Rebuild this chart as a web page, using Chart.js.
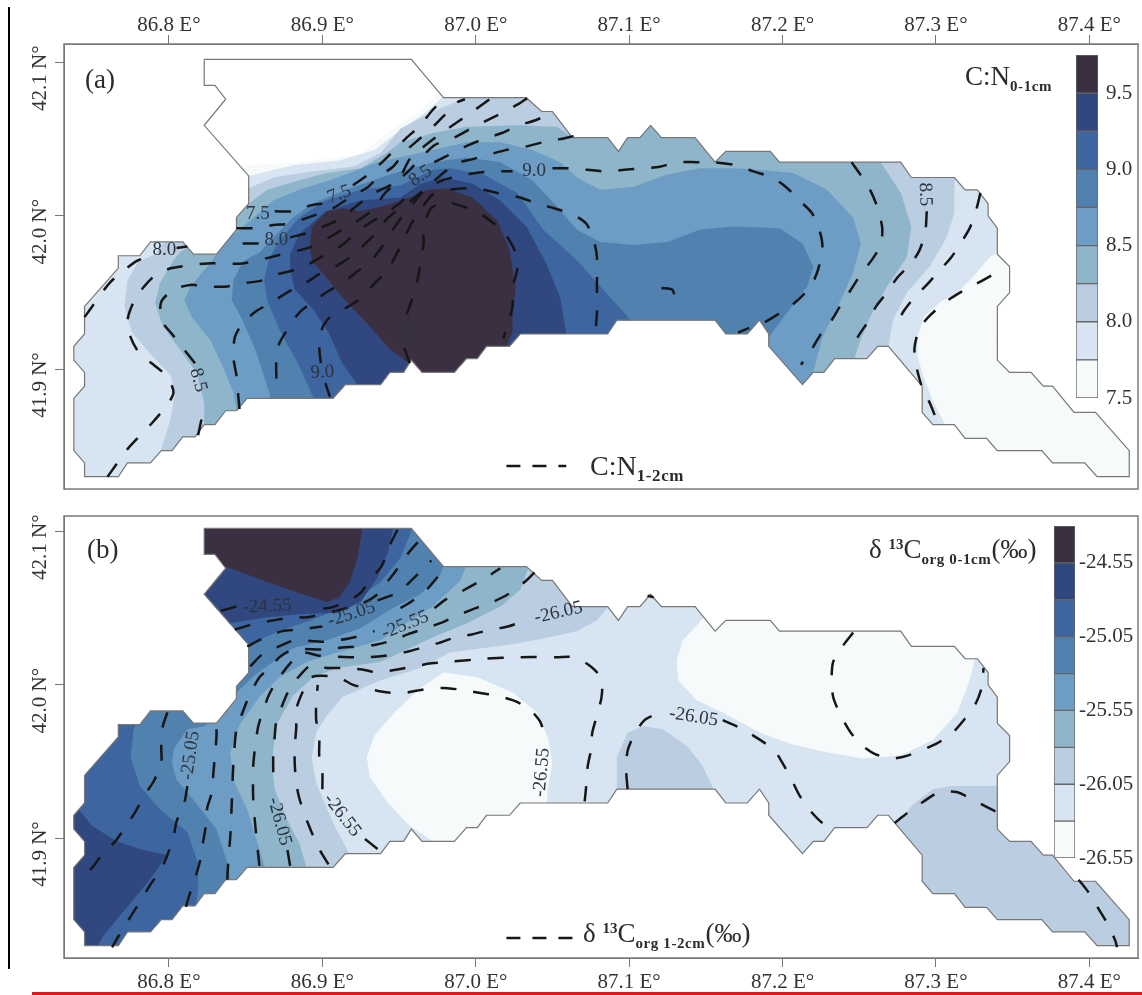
<!DOCTYPE html>
<html lang="en">
<head>
<meta charset="UTF-8">
<title>C:N and d13C maps</title>
<script src="https://cdn.jsdelivr.net/npm/chart.js"></script>
<style>
  html, body { margin: 0; background: #fff; }
  #page { position: relative; width: 1142px; height: 995px; overflow: hidden; font-family: "Liberation Serif", serif; color: #2b2b2b; }
  canvas { position: absolute; }
  .txt { position: absolute; white-space: nowrap; font-size: 27px; line-height: 30px; }
  .txt sub { font-size: 15px; font-weight: bold; letter-spacing: .6px; vertical-align: -6px; line-height: 0; }
  .txt sup { font-size: 15px; font-weight: bold; vertical-align: 9px; line-height: 0; }
  #leftRule { position: absolute; left: 8px; top: 7px; width: 2px; height: 962px; background: #000; }
  #redRule { position: absolute; left: 32px; top: 992px; width: 1110px; height: 3px; background: #e8141c; }
</style>
</head>
<body>
<div id="page">
  <div id="leftRule"></div>
  <div id="redRule"></div>
  <canvas id="mapA" width="1142" height="500" style="left:0;top:0"></canvas>
  <canvas id="mapB" width="1142" height="495" style="left:0;top:500px"></canvas>
  <canvas id="barA" width="72" height="375" style="left:1070px;top:45px"></canvas>
  <canvas id="barB" width="94" height="362" style="left:1048px;top:516px"></canvas>
  <div class="txt" style="left:85px;top:64px">(a)</div>
  <div class="txt" style="left:87px;top:534px">(b)</div>
  <div class="txt" style="left:965px;top:61px">C:N<sub>0-1cm</sub></div>
  <div class="txt" style="left:590px;top:451px;font-size:28px">C:N<sub style="font-size:17px">1-2cm</sub></div>
  <div class="txt" style="left:869px;top:534px">δ <sup>13</sup>C<sub>org 0-1cm</sub>(‰)</div>
  <div class="txt" style="left:583px;top:918px">δ <sup>13</sup>C<sub>org 1-2cm</sub>(‰)</div>
</div>

<script>
// axis ticks
var lonTicks = [86.8, 86.9, 87.0, 87.1, 87.2, 87.3, 87.4];
var latTicks = [41.9, 42.0, 42.1];

// colour bars
var bandColors = ['#f6fafb', '#d7e4f1', '#bacde1', '#8fb5cb', '#6d9dc4', '#5181ae', '#3d659f', '#30487f', '#3a3042'];
var edgesA = [7.5, 7.75, 8.0, 8.25, 8.5, 8.75, 9.0, 9.25, 9.5, 9.75];
var edgesB = [-26.55, -26.3, -26.05, -25.8, -25.55, -25.3, -25.05, -24.8, -24.55, -24.3];
var barTicksA = [7.5, 8.0, 8.5, 9.0, 9.5];
var barTicksB = [-26.55, -26.05, -25.55, -25.05, -24.55];

// study area boundary, lon/lat
var outline = [[86.823,42.102],[86.958,42.102],[86.979,42.077],[87.033,42.077],[87.043,42.068],[87.050,42.068],[87.063,42.051],[87.086,42.051],[87.093,42.042],[87.099,42.051],[87.107,42.051],[87.114,42.059],[87.121,42.051],[87.143,42.051],[87.156,42.035],[87.163,42.042],[87.192,42.042],[87.198,42.035],[87.277,42.035],[87.284,42.025],[87.312,42.025],[87.319,42.017],[87.327,42.017],[87.334,42.008],[87.334,42.000],[87.340,41.992],[87.340,41.975],[87.348,41.967],[87.348,41.950],[87.340,41.941],[87.340,41.906],[87.348,41.898],[87.362,41.898],[87.370,41.889],[87.376,41.889],[87.390,41.872],[87.404,41.872],[87.426,41.847],[87.426,41.830],[87.405,41.830],[87.397,41.839],[87.376,41.839],[87.369,41.847],[87.340,41.847],[87.333,41.855],[87.319,41.855],[87.312,41.864],[87.298,41.864],[87.291,41.872],[87.291,41.889],[87.269,41.915],[87.262,41.915],[87.255,41.907],[87.234,41.907],[87.227,41.898],[87.220,41.898],[87.213,41.890],[87.191,41.915],[87.191,41.923],[87.185,41.932],[87.177,41.923],[87.163,41.923],[87.156,41.932],[87.092,41.932],[87.086,41.923],[87.029,41.923],[87.022,41.915],[87.007,41.915],[87.001,41.907],[86.994,41.907],[86.986,41.898],[86.965,41.898],[86.958,41.906],[86.953,41.898],[86.944,41.898],[86.938,41.890],[86.915,41.890],[86.907,41.881],[86.851,41.881],[86.844,41.873],[86.837,41.873],[86.830,41.864],[86.823,41.864],[86.817,41.856],[86.809,41.856],[86.802,41.847],[86.795,41.847],[86.788,41.839],[86.773,41.839],[86.767,41.830],[86.745,41.830],[86.745,41.839],[86.738,41.847],[86.738,41.881],[86.745,41.889],[86.745,41.898],[86.738,41.906],[86.738,41.915],[86.745,41.923],[86.745,41.941],[86.767,41.966],[86.767,41.974],[86.781,41.974],[86.788,41.983],[86.809,41.983],[86.816,41.975],[86.831,41.975],[86.844,41.991],[86.844,41.999],[86.852,42.008],[86.852,42.026],[86.823,42.059],[86.837,42.076],[86.830,42.085],[86.823,42.085]];

// panel a: filled regions, C:N 0-1cm >= level
var a750 = [[86.852,42.033],[86.885,42.035],[86.925,42.040],[86.951,42.061],[86.964,42.069],[86.977,42.081],[87.016,42.108],[87.430,42.108],[87.430,41.825],[86.733,41.825],[86.733,42.033]];
var a775 = [[86.733,42.043],[86.852,42.026],[86.881,42.033],[86.911,42.036],[86.934,42.043],[86.951,42.056],[86.967,42.067],[86.980,42.079],[87.016,42.108],[87.430,42.108],[87.430,41.976],[87.340,41.976],[87.335,41.973],[87.324,41.960],[87.314,41.950],[87.303,41.944],[87.292,41.934],[87.288,41.921],[87.288,41.908],[87.292,41.895],[87.298,41.879],[87.306,41.864],[87.306,41.825],[86.733,41.825]];
var a800 = [[86.852,42.018],[86.868,42.025],[86.894,42.029],[86.920,42.032],[86.938,42.041],[86.951,42.057],[86.972,42.068],[86.994,42.077],[86.994,42.089],[87.312,42.089],[87.312,42.025],[87.312,42.002],[87.307,41.986],[87.296,41.967],[87.281,41.950],[87.272,41.932],[87.269,41.915],[87.269,41.825],[86.795,41.825],[86.795,41.848],[86.801,41.867],[86.804,41.885],[86.801,41.896],[86.788,41.910],[86.776,41.924],[86.771,41.941],[86.773,41.958],[86.780,41.970],[86.791,41.975],[86.797,41.983]];
var a825 = [[86.807,41.976],[86.851,42.007],[86.864,42.017],[86.881,42.022],[86.903,42.028],[86.925,42.031],[86.942,42.041],[86.951,42.048],[86.972,42.054],[86.994,42.058],[87.027,42.059],[87.053,42.058],[87.063,42.051],[87.063,42.062],[87.264,42.062],[87.264,42.035],[87.277,42.015],[87.284,41.993],[87.281,41.973],[87.268,41.954],[87.257,41.934],[87.250,41.917],[87.247,41.907],[87.247,41.825],[86.823,41.825],[86.823,41.878],[86.818,41.898],[86.807,41.913],[86.796,41.928],[86.791,41.943],[86.794,41.956],[86.803,41.971]];
var a850 = [[86.831,41.975],[86.840,41.986],[86.853,41.997],[86.868,42.010],[86.885,42.017],[86.910,42.025],[86.936,42.035],[86.972,42.043],[86.994,42.048],[87.016,42.048],[87.037,42.043],[87.055,42.035],[87.066,42.025],[87.081,42.017],[87.103,42.019],[87.125,42.027],[87.146,42.031],[87.168,42.031],[87.185,42.030],[87.207,42.028],[87.229,42.017],[87.246,41.999],[87.251,41.982],[87.246,41.963],[87.236,41.941],[87.226,41.921],[87.220,41.898],[87.220,41.825],[86.844,41.825],[86.844,41.874],[86.842,41.885],[86.835,41.902],[86.827,41.919],[86.815,41.934],[86.810,41.945],[86.814,41.954],[86.825,41.967]];
var a875 = [[86.853,41.973],[86.859,41.976],[86.868,41.986],[86.881,41.999],[86.894,42.008],[86.913,42.016],[86.938,42.025],[86.951,42.029],[86.972,42.035],[86.994,42.038],[87.016,42.035],[87.037,42.023],[87.053,42.006],[87.066,41.991],[87.081,41.983],[87.103,41.981],[87.125,41.983],[87.146,41.991],[87.168,41.993],[87.198,41.992],[87.213,41.982],[87.220,41.967],[87.216,41.954],[87.203,41.937],[87.191,41.921],[87.191,41.825],[86.866,41.825],[86.866,41.883],[86.857,41.911],[86.848,41.932],[86.841,41.945],[86.842,41.958],[86.848,41.970]];
var a900 = [[86.865,41.971],[86.872,41.984],[86.885,41.999],[86.902,42.010],[86.925,42.017],[86.951,42.020],[86.972,42.030],[86.983,42.031],[87.005,42.027],[87.027,42.015],[87.044,41.991],[87.066,41.971],[87.083,41.952],[87.101,41.932],[87.107,41.919],[87.107,41.825],[86.894,41.825],[86.894,41.882],[86.885,41.902],[86.872,41.926],[86.864,41.945],[86.862,41.958]];
var a925 = [[86.879,41.975],[86.885,41.988],[86.902,42.003],[86.925,42.010],[86.951,42.012],[86.964,42.021],[86.979,42.025],[86.998,42.021],[87.016,42.010],[87.033,41.993],[87.046,41.969],[87.055,41.947],[87.059,41.924],[87.059,41.825],[86.923,41.825],[86.923,41.890],[86.913,41.904],[86.904,41.924],[86.894,41.939],[86.882,41.952],[86.879,41.965]];
var a950 = [[86.892,41.980],[86.893,41.993],[86.903,42.003],[86.913,42.005],[86.925,42.003],[86.942,42.007],[86.957,42.012],[86.969,42.017],[86.981,42.018],[86.998,42.012],[87.014,41.997],[87.022,41.978],[87.026,41.954],[87.024,41.934],[87.024,41.924],[87.019,41.913],[86.990,41.890],[86.964,41.890],[86.958,41.903],[86.944,41.913],[86.929,41.930],[86.913,41.947],[86.900,41.963],[86.893,41.971]];

// panel a: dashed contours, C:N 1-2cm. [null,null] leaves room for a label
var GAP = [null, null];
var aLine1 = [[86.869,42.003],[86.881,42.003],[86.893,42.007],[86.900,42.008],GAP,[86.920,42.020],[86.930,42.027],[86.939,42.035],[86.947,42.043],[86.955,42.051],[86.964,42.059],[86.971,42.068],[86.979,42.076]];
var aLine2 = [[86.844,41.992],[86.855,41.992],[86.868,41.994],[86.879,41.995],[86.891,41.999],[86.907,42.005],[86.918,42.012],[86.930,42.019],[86.936,42.025],[86.946,42.032],[86.954,42.042],[86.962,42.049],[86.971,42.057],[86.979,42.065],[86.988,42.074],[86.993,42.076]];
var aLine3 = [[86.848,41.982],[86.859,41.982],GAP,[86.879,41.986],[86.891,41.989],[86.903,41.994],[86.913,41.999],[86.923,42.007],[86.932,42.014],[86.949,42.023],[86.957,42.037],[86.966,42.045],[86.975,42.052],[86.985,42.059],[86.995,42.066],[87.005,42.073],[87.009,42.076]];
var aLine4 = [[86.760,41.830],[86.773,41.848],[86.789,41.865],[86.799,41.877],[86.803,41.885],[86.799,41.895],[86.790,41.903],[86.781,41.910],[86.775,41.921],[86.773,41.932],[86.777,41.944],[86.783,41.953],[86.792,41.962],[86.802,41.966],[86.825,41.969],[86.848,41.969],[86.870,41.974],[86.893,41.980],[86.913,41.991],[86.932,42.003],[86.941,42.015],[86.957,42.030],[86.973,42.046],[86.986,42.051],[86.997,42.057],[87.007,42.062],[87.017,42.067],[87.028,42.073],[87.034,42.077]];
var aLine5 = [[86.819,41.857],[86.822,41.871],GAP,[86.817,41.904],[86.809,41.914],[86.802,41.923],[86.795,41.932],[86.795,41.944],[86.803,41.952],[86.814,41.955],[86.825,41.954],[86.838,41.954],[86.848,41.956],[86.861,41.958],[86.871,41.962],[86.883,41.965],[86.892,41.969],[86.904,41.976],[86.913,41.981],[86.923,41.990],[86.932,41.996],[86.949,42.007],[86.956,42.014],GAP,[86.973,42.035],[86.985,42.041],[86.995,42.046],[87.005,42.050],[87.017,42.054],[87.028,42.059],[87.038,42.062],[87.050,42.067]];
var aLine6 = [[86.846,41.874],[86.845,41.885],[86.844,41.896],[86.842,41.908],[86.843,41.921],[86.848,41.930],[86.857,41.938],[86.866,41.943],[86.877,41.950],[86.887,41.955],[86.898,41.962],[86.907,41.966],[86.918,41.973],[86.926,41.980],[86.936,41.990],[86.943,41.999],[86.958,42.010],[86.973,42.023],[86.987,42.034],[86.998,42.037],[87.009,42.040],[87.020,42.043],[87.032,42.045],[87.044,42.048],[87.055,42.050],[87.064,42.052]];
var aLine7 = [[86.870,41.894],[86.870,41.905],[86.872,41.917],[86.878,41.927],[86.885,41.937],[86.894,41.944],[86.904,41.951],[86.913,41.956],[86.923,41.964],[86.932,41.971],[86.939,41.980],[86.946,41.991],[86.953,42.001],[86.959,42.008],[86.968,42.018],[86.978,42.023],[86.989,42.026],[87.000,42.028],[87.012,42.029],[87.024,42.029],GAP,[87.050,42.031],[87.061,42.031],[87.073,42.030],[87.085,42.029],[87.097,42.030],[87.108,42.031],[87.120,42.032],[87.131,42.035],[87.144,42.035],[87.155,42.035],[87.170,42.033],[87.181,42.029],[87.193,42.025],[87.202,42.019],[87.211,42.010],[87.219,42.002],[87.224,41.991],[87.226,41.980],[87.224,41.968],[87.220,41.957],[87.213,41.948],[87.205,41.941],[87.194,41.934],[87.187,41.930],[87.181,41.928],[87.171,41.924]];
var aLine8 = [[86.905,41.882],[86.902,41.891],GAP,[86.899,41.904],[86.898,41.915],[86.900,41.927],[86.905,41.934],[86.917,41.941],[86.926,41.947],[86.934,41.956],[86.942,41.964],[86.951,41.980],[86.958,41.995],[86.964,42.004],[86.972,42.014],[86.982,42.017],[86.995,42.018],[87.005,42.017],[87.018,42.014],[87.029,42.012],[87.040,42.008],[87.051,42.005],[87.063,42.001],[87.072,41.995],[87.077,41.984],[87.079,41.973],[87.079,41.961],[87.079,41.950],[87.079,41.937],[87.078,41.924]];
var aLine9 = [[86.957,41.904],[86.953,41.915],GAP,[86.955,41.936],[86.959,41.947],[86.962,41.958],[86.964,41.969],[86.966,41.982],[86.966,41.993],[86.971,42.005],[86.980,42.009],[86.992,42.006],[87.002,42.002],[87.013,41.994],[87.020,41.987],[87.026,41.976],[87.027,41.965],[87.024,41.953],[87.024,41.941],[87.021,41.930],[87.018,41.920]];
var aLine10 = [[86.745,41.934],[86.750,41.941],[86.762,41.957],[86.778,41.970],[86.785,41.973],GAP,[86.805,41.979],[86.812,41.980]];
var aLine11 = [[87.121,41.953],[87.128,41.952],[87.130,41.947]];
var aLine12 = [[87.245,42.035],[87.252,42.025],[87.258,42.015],[87.262,42.005],[87.265,41.992],[87.264,41.981],[87.258,41.971],[87.251,41.962],[87.244,41.951],[87.238,41.942],[87.232,41.932],[87.225,41.923],[87.219,41.913],[87.212,41.903]];
var aLine13 = [[87.294,42.003],[87.293,41.989],[87.289,41.977],[87.283,41.968],[87.275,41.960],[87.268,41.950],[87.261,41.941],[87.255,41.930],[87.249,41.921],[87.245,41.910]];
var aLine14 = [[87.329,42.015],[87.326,42.003],[87.322,41.992],[87.316,41.982],[87.310,41.973],[87.302,41.964],[87.294,41.955],[87.286,41.947],[87.279,41.938],[87.273,41.927]];
var aLine15 = [[87.336,41.961],[87.325,41.955],[87.314,41.949],[87.305,41.943],[87.295,41.934],[87.289,41.926],[87.286,41.914],[87.287,41.903],[87.291,41.888],[87.296,41.878],[87.301,41.866],[87.303,41.864]];
var aKey = [[87.020,41.837],[87.059,41.837]];
var aLabels = [[86.858,42.001,'7.5',0],[86.911,42.014,'7.5',-20],[86.870,41.984,'8.0',0],[86.797,41.978,'8.0',0],[86.964,42.026,'8.5',-35],[87.038,42.029,'9.0',0],[86.819,41.893,'8.5',75],[86.900,41.898,'9.0',-3],[86.954,41.926,'9.5',-80],[87.293,42.014,'8.5',88]];

// panel b: filled regions, d13C 0-1cm. base colour is the -26.30 band
var bLow1 = [[86.979,42.008],[87.001,42.005],[87.024,41.995],[87.040,41.982],[87.047,41.966],[87.050,41.949],[87.047,41.932],[87.046,41.915],[86.996,41.893],[86.972,41.898],[86.957,41.908],[86.942,41.924],[86.931,41.940],[86.929,41.953],[86.934,41.967],[86.947,41.982],[86.964,41.998]];
var bLow2 = [[87.146,42.041],[87.135,42.029],[87.131,42.016],[87.132,42.003],[87.144,41.990],[87.161,41.982],[87.185,41.969],[87.207,41.961],[87.229,41.956],[87.252,41.952],[87.277,41.954],[87.298,41.964],[87.314,41.982],[87.322,42.003],[87.326,42.020],[87.326,42.055],[87.159,42.055]];
var bMid1 = [[87.092,41.932],[87.092,41.953],[87.099,41.969],[87.109,41.973],[87.122,41.971],[87.138,41.960],[87.148,41.947],[87.155,41.932],[87.155,41.919],[87.092,41.919]];
var bMid2 = [[87.275,41.910],[87.285,41.922],[87.298,41.932],[87.311,41.934],[87.340,41.934],[87.430,41.934],[87.430,41.824],[87.264,41.824],[87.264,41.906]];
var bMid3 = [[87.086,42.050],[87.079,42.042],[87.066,42.035],[87.048,42.031],[87.027,42.027],[87.005,42.024],[86.983,42.021],[86.964,42.011],[86.938,42.003],[86.913,41.992],[86.903,41.980],[86.896,41.969],[86.893,41.953],[86.896,41.936],[86.907,41.910],[86.917,41.891],[86.917,41.824],[86.733,41.824],[86.733,42.107],[87.086,42.107]];
var b2580 = [[87.035,42.078],[87.029,42.062],[87.016,42.051],[86.994,42.040],[86.972,42.031],[86.951,42.021],[86.938,42.015],[86.910,42.011],[86.894,42.005],[86.881,41.993],[86.870,41.974],[86.867,41.949],[86.869,41.932],[86.877,41.912],[86.885,41.897],[86.890,41.880],[86.890,41.824],[86.733,41.824],[86.733,42.107],[87.035,42.107]];
var b2555 = [[86.998,42.088],[86.990,42.068],[86.972,42.051],[86.951,42.038],[86.938,42.029],[86.910,42.021],[86.890,42.015],[86.872,42.005],[86.859,41.992],[86.846,41.974],[86.840,41.956],[86.842,41.938],[86.851,41.919],[86.857,41.899],[86.863,41.880],[86.863,41.824],[86.733,41.824],[86.733,42.107],[86.998,42.107]];
var b2530 = [[86.982,42.085],[86.977,42.072],[86.964,42.059],[86.946,42.050],[86.925,42.037],[86.903,42.029],[86.881,42.024],[86.868,42.015],[86.857,42.007],[86.846,41.997],[86.835,41.982],[86.823,41.973],[86.812,41.971],[86.803,41.958],[86.802,41.949],[86.805,41.938],[86.816,41.925],[86.831,41.906],[86.838,41.884],[86.840,41.873],[86.840,41.824],[86.733,41.824],[86.733,42.107],[86.982,42.107]];
var b2505N = [[86.958,42.107],[86.958,42.100],[86.951,42.083],[86.938,42.067],[86.920,42.054],[86.898,42.044],[86.872,42.035],[86.852,42.026],[86.820,42.026],[86.820,42.107]];
var b2505W = [[86.781,41.980],[86.777,41.971],[86.775,41.953],[86.781,41.934],[86.794,41.919],[86.812,41.904],[86.819,41.884],[86.819,41.868],[86.817,41.850],[86.817,41.824],[86.733,41.824],[86.733,41.980]];
var b2480N = [[86.946,42.107],[86.946,42.101],[86.943,42.087],[86.936,42.070],[86.925,42.054],[86.910,42.047],[86.885,42.046],[86.864,42.044],[86.838,42.040],[86.814,42.055],[86.814,42.107]];
var b2480W = [[86.733,41.925],[86.740,41.925],[86.740,41.920],[86.750,41.908],[86.766,41.898],[86.781,41.893],[86.799,41.889],[86.786,41.871],[86.770,41.852],[86.757,41.836],[86.750,41.824],[86.733,41.824]];
var b2455 = [[86.926,42.107],[86.926,42.101],[86.923,42.083],[86.918,42.067],[86.911,42.057],[86.903,42.054],[86.887,42.059],[86.864,42.067],[86.840,42.076],[86.820,42.081],[86.820,42.107]];

// panel b: dashed contours, d13C 1-2cm
var bLine1 = [[86.949,42.101],[86.943,42.089],[86.939,42.078],[86.931,42.068],[86.925,42.060],[86.916,42.054],[86.904,42.050],[86.892,42.050],GAP,[86.844,42.051],[86.833,42.048]];
var bLine2 = [[86.843,42.036],[86.857,42.040],[86.868,42.042],[86.881,42.044],[86.890,42.044],[86.908,42.048],[86.926,42.053],[86.936,42.059],[86.943,42.068],[86.947,42.073],[86.957,42.087],[86.965,42.096]];
var bLine3 = [[86.851,42.025],[86.863,42.031],[86.874,42.035],[86.885,42.036],[86.900,42.038],GAP,[86.951,42.050],[86.959,42.055],[86.968,42.062],[86.979,42.075]];
var bLine4 = [[86.936,42.055],[86.949,42.060],[86.956,42.066],[86.971,42.081]];
var bLine5 = [[86.853,42.012],[86.861,42.020],[86.874,42.026],[86.882,42.029],[86.900,42.028],[86.910,42.029],[86.921,42.031],[86.934,42.035],GAP,[86.973,42.050],[86.981,42.056],[86.991,42.061],[87.007,42.070],[87.016,42.076]];
var bLine6 = [[86.838,41.873],[86.839,41.890],[86.840,41.901],[86.841,41.924],[86.842,41.948],[86.844,41.971],[86.848,41.982],[86.852,41.992],[86.859,42.005],[86.866,42.011],[86.872,42.018],[86.881,42.023],[86.900,42.023],[86.910,42.024],[86.934,42.026],[86.946,42.029],[86.956,42.033],[86.968,42.037],[86.979,42.041],[86.990,42.046],[87.000,42.050],[87.011,42.054],[87.021,42.059],[87.033,42.068],[87.039,42.074]];
var bLine7 = [[86.859,41.882],[86.857,41.901],[86.855,41.924],[86.855,41.948],[86.858,41.972],[86.861,41.982],[86.865,41.993],[86.870,42.002],[86.879,42.014],[86.887,42.021],[86.898,42.019],[86.918,42.018],[86.930,42.018],[86.941,42.019],[86.953,42.021],[86.964,42.024],[86.975,42.027],[86.987,42.031],[86.998,42.033],[87.010,42.036],[87.021,42.038],[87.035,42.043]];
var bLine8 = [[86.879,41.882],[86.877,41.894],GAP,[86.868,41.943],[86.868,41.954],[86.869,41.967],[86.870,41.976],[86.874,41.987],[86.879,41.998],[86.887,42.008],[86.893,42.013],[86.903,42.011],[86.913,42.011],[86.926,42.010],[86.936,42.008],[86.949,42.010],[86.960,42.012],[86.971,42.014],[86.983,42.015],[87.006,42.017],[87.029,42.018],[87.053,42.018],[87.064,42.018],[87.075,42.012],[87.082,42.004],[87.082,41.992],[87.079,41.980],[87.076,41.969],[87.075,41.957],[87.073,41.947],[87.072,41.934],[87.071,41.924]];
var bLine9 = [[86.904,41.883],[86.898,41.893],[86.893,41.904],[86.889,41.914],[86.885,41.926],[86.883,41.936],[86.882,41.949],[86.882,41.960],[86.883,41.972],[86.883,41.984],[86.887,41.995],[86.893,42.005],[86.910,42.005],[86.920,42.000],[86.932,41.997],[86.943,41.995],[86.955,41.995],[86.966,41.997],[86.978,41.998],[86.989,41.997],[87.001,41.995],[87.013,41.993],[87.024,41.990],[87.034,41.985],[87.042,41.976],[87.046,41.963]];
var bLine10 = [[86.936,41.893],[86.926,41.901],GAP,[86.900,41.932],[86.900,41.943],[86.898,41.953],[86.898,41.967],[86.896,41.977],[86.896,41.988],[86.897,42.000]];
var bLine11 = [[86.831,41.971],[86.831,41.966],[86.830,41.954],[86.829,41.943],[86.828,41.930],[86.825,41.920],[86.824,41.908],[86.822,41.896],[86.820,41.884],[86.817,41.874],[86.813,41.862],[86.811,41.855]];
var bLine12 = [[86.812,41.934],[86.810,41.923],[86.805,41.911],[86.803,41.901],[86.799,41.889],[86.795,41.880],[86.788,41.870],[86.782,41.860],[86.775,41.849],[86.769,41.839],[86.767,41.836],[86.763,41.829]];
var bLine13 = [[86.799,41.982],[86.796,41.973],[86.795,41.960],[86.795,41.949],[86.790,41.937],[86.784,41.928],[86.778,41.917],[86.772,41.908],[86.765,41.898],[86.757,41.890],[86.750,41.881],[86.742,41.872]];
var bLine14 = [[87.099,41.932],[87.098,41.945],[87.099,41.957],[87.103,41.967],[87.110,41.977],[87.120,41.982],GAP,[87.161,41.977],[87.174,41.971],[87.194,41.958],[87.200,41.949],[87.206,41.938],[87.211,41.928],[87.218,41.918],[87.226,41.910],[87.234,41.906]];
var bLine15 = [[87.246,42.034],[87.239,42.025],[87.233,42.015],[87.232,42.004],[87.233,41.992],[87.237,41.982],[87.243,41.971],[87.250,41.962],[87.260,41.955],[87.271,41.952],[87.282,41.954],[87.301,41.962],[87.311,41.969],[87.319,41.978],[87.326,41.988],[87.330,41.999],[87.331,42.011]];
var bLine16 = [[87.273,41.910],[87.282,41.917],[87.292,41.924],[87.302,41.930],[87.314,41.930],[87.324,41.925],[87.340,41.917]];
var bLine17 = [[87.393,41.873],[87.400,41.864],[87.406,41.854],[87.412,41.844],[87.417,41.833],[87.418,41.829]];
var bLine18 = [[87.112,42.058],[87.116,42.057]];
var bKey = [[87.020,41.835],[87.064,41.835]];
var bLabels = [[86.864,42.051,'-24.55',-2],[86.919,42.046,'-25.05',-18],[86.954,42.039,'-25.55',-22],[87.054,42.047,'-26.05',-13],[87.043,41.943,'-26.55',-85],[87.142,41.979,'-26.05',9],[86.913,41.915,'-26.55',52],[86.872,41.911,'-26.05',75],[86.814,41.954,'-25.05',-82]];

Chart.defaults.font.family = '"Liberation Serif", serif';
Chart.defaults.color = '#333';
Chart.defaults.animation = false;

// fills each region clipped to the boundary, writes contour labels, frames the plot
var mapPlugin = {
    id: 'mapPlugin',
    beforeDatasetDraw: function (chart, args) {
        var ds = chart.data.datasets[args.index];
        if (!ds.region) return;
        var xs = chart.scales.x, ys = chart.scales.y, ctx = chart.ctx;
        ctx.save();
        ctx.beginPath();
        outline.forEach(function (p, i) {
            var px = xs.getPixelForValue(p[0]), py = ys.getPixelForValue(p[1]);
            if (i === 0) ctx.moveTo(px, py); else ctx.lineTo(px, py);
        });
        ctx.closePath();
        ctx.clip();
        ctx.beginPath();
        args.meta.data.forEach(function (el, i) {
            if (i === 0) ctx.moveTo(el.x, el.y); else ctx.lineTo(el.x, el.y);
        });
        ctx.closePath();
        ctx.fillStyle = ds.region;
        ctx.fill();
        ctx.restore();
    },
    afterDatasetsDraw: function (chart) {
        var a = chart.chartArea, ctx = chart.ctx;
        ctx.save();
        ctx.strokeStyle = '#7a7a7a';
        ctx.lineWidth = 1.5;
        ctx.strokeRect(a.left, a.top, a.right - a.left, a.bottom - a.top);
        ctx.font = '19px "Liberation Serif", serif';
        ctx.fillStyle = '#2c3440';
        ctx.textAlign = 'center';
        ctx.textBaseline = 'middle';
        (chart.options.plugins.mapPlugin.labels || []).forEach(function (l) {
            ctx.save();
            ctx.translate(chart.scales.x.getPixelForValue(l[0]), chart.scales.y.getPixelForValue(l[1]));
            ctx.rotate(l[3] * Math.PI / 180);
            ctx.fillText(l[2], 0, 0);
            ctx.restore();
        });
        ctx.restore();
    }
};

function mapChart(id, regions, lines, key, labels, xPos, yMax, yMin, pad, xHeight, xPad) {
    var sets = [];
    regions.forEach(function (r) {
        sets.push({ data: r[0], region: r[1], showLine: false, pointRadius: 0 });
    });
    sets.push({ data: outline.concat([outline[0]]), showLine: true, pointRadius: 0, borderColor: '#777', borderWidth: 1.2, tension: 0 });
    lines.forEach(function (l) {
        sets.push({ data: l, showLine: true, pointRadius: 0, borderColor: '#161616', borderWidth: 2.5, borderDash: [16, 17], tension: 0.25 });
    });
    sets.push({ data: key, showLine: true, pointRadius: 0, borderColor: '#161616', borderWidth: 2.5, borderDash: [14, 12], tension: 0 });
    // last one in the list has to be painted last
    sets.forEach(function (s, i) { s.order = sets.length - i; });

    return new Chart(document.getElementById(id), {
        type: 'scatter',
        data: { datasets: sets },
        options: {
            responsive: false,
            layout: { padding: pad, autoPadding: false },
            plugins: { legend: { display: false }, tooltip: { enabled: false }, mapPlugin: { labels: labels } },
            scales: {
                x: {
                    type: 'linear', position: xPos, min: 86.7316, max: 87.4317,
                    afterBuildTicks: function (s) { s.ticks = lonTicks.map(function (v) { return { value: v }; }); },
                    afterFit: function (s) { s.height = xHeight; s.paddingLeft = 0; s.paddingRight = 0; },
                    grid: { drawOnChartArea: false, color: '#777', tickLength: 9 },
                    border: { color: '#7a7a7a' },
                    ticks: { autoSkip: false, maxRotation: 0, padding: xPad, font: { size: 21 }, callback: function (v) { return v.toFixed(1) + ' E°'; } }
                },
                y: {
                    type: 'linear', min: yMin, max: yMax,
                    afterBuildTicks: function (s) { s.ticks = latTicks.map(function (v) { return { value: v }; }); },
                    // the tick padding would otherwise be added above and below the plot
                    afterFit: function (s) { s.width = 64; s.paddingTop = 0; s.paddingBottom = 0; },
                    grid: { drawOnChartArea: false, color: '#777', tickLength: 9 },
                    border: { color: '#7a7a7a' },
                    ticks: { autoSkip: false, minRotation: 90, maxRotation: 90, padding: 15, labelOffset: -17, font: { size: 21 }, callback: function (v) { return v.toFixed(1) + ' N°'; } }
                }
            }
        },
        plugins: [mapPlugin]
    });
}

function colorBar(id, edges, ticks, digits, pad, axisWidth, tickPad) {
    var sets = bandColors.map(function (c, i) {
        return { data: [[edges[i], edges[i + 1]]], backgroundColor: c, borderColor: '#666', borderWidth: 1, borderSkipped: false, grouped: false, barPercentage: 1, categoryPercentage: 1 };
    });
    return new Chart(document.getElementById(id), {
        type: 'bar',
        data: { labels: [''], datasets: sets },
        options: {
            responsive: false,
            layout: { padding: pad, autoPadding: false },
            plugins: { legend: { display: false }, tooltip: { enabled: false } },
            scales: {
                x: { display: false },
                y: {
                    position: 'right', min: edges[0], max: edges[edges.length - 1],
                    afterBuildTicks: function (s) { s.ticks = ticks.map(function (v) { return { value: v }; }); },
                    afterFit: function (s) { s.width = axisWidth; s.paddingTop = 0; s.paddingBottom = 0; },
                    grid: { display: false, drawTicks: false }, border: { display: false },
                    ticks: { autoSkip: false, padding: tickPad, font: { size: 21 }, callback: function (v) { return v.toFixed(digits); } }
                }
            }
        }
    });
}

mapChart('mapA',
    [[outline, '#ffffff'], [a750, bandColors[0]], [a775, bandColors[1]], [a800, bandColors[2]], [a825, bandColors[3]], [a850, bandColors[4]], [a875, bandColors[5]], [a900, bandColors[6]], [a925, bandColors[7]], [a950, bandColors[8]]],
    [aLine1, aLine2, aLine3, aLine4, aLine5, aLine6, aLine7, aLine8, aLine9, aLine10, aLine11, aLine12, aLine13, aLine14, aLine15],
    aKey, aLabels, 'top', 42.112, 41.822, { left: 0, right: 4, top: 0, bottom: 11 }, 44, -3);

mapChart('mapB',
    [[outline, bandColors[1]], [bLow1, bandColors[0]], [bLow2, bandColors[0]], [bMid1, bandColors[2]], [bMid2, bandColors[2]], [bMid3, bandColors[2]], [b2580, bandColors[3]], [b2555, bandColors[4]], [b2530, bandColors[5]], [b2505N, bandColors[6]], [b2505W, bandColors[6]], [b2480N, bandColors[7]], [b2480W, bandColors[7]], [b2455, bandColors[8]]],
    [bLine1, bLine2, bLine3, bLine4, bLine5, bLine6, bLine7, bLine8, bLine9, bLine10, bLine11, bLine12, bLine13, bLine14, bLine15, bLine16, bLine17, bLine18],
    bKey, bLabels, 'bottom', 42.110, 41.822, { left: 0, right: 4, top: 16, bottom: 0 }, 37, 3);

colorBar('barA', edgesA, barTicksA, 1, { left: 6, right: 0, top: 10, bottom: 22 }, 44, 8);
colorBar('barB', edgesB, barTicksB, 2, { left: 6, right: 0, top: 10, bottom: 20 }, 67, 4);
</script>
</body>
</html>
